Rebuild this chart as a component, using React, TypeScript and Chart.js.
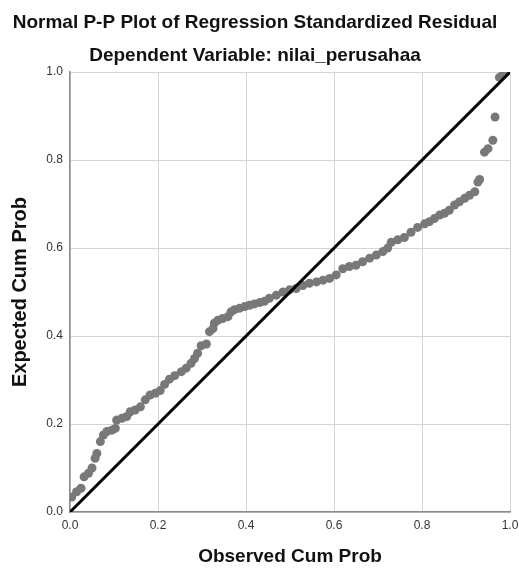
import React, { useEffect, useRef } from "react";
import { Chart, registerables } from "chart.js";

Chart.register(...registerables);

const observed: number[] = [
  0.004, 0.015, 0.025, 0.032, 0.042, 0.05, 0.057, 0.061, 0.069, 0.076, 0.084, 0.095, 0.103, 0.106,
  0.118, 0.129, 0.137, 0.148, 0.16, 0.171, 0.182, 0.194, 0.205, 0.215, 0.226, 0.238, 0.253, 0.264,
  0.275, 0.283, 0.29, 0.298, 0.31, 0.317, 0.325, 0.328, 0.336, 0.347, 0.359, 0.366, 0.374, 0.385,
  0.397, 0.408, 0.419, 0.431, 0.442, 0.453, 0.469, 0.484, 0.499, 0.514, 0.529, 0.544, 0.56, 0.575,
  0.59, 0.605, 0.62, 0.635, 0.65, 0.665, 0.681, 0.696, 0.711, 0.722, 0.73, 0.745, 0.76, 0.775,
  0.79, 0.806, 0.817, 0.828, 0.84, 0.851, 0.862, 0.874, 0.885, 0.897, 0.908, 0.92, 0.927, 0.931,
  0.942, 0.95, 0.961, 0.966, 0.976, 0.984, 0.99,
];

const expected: number[] = [
  0.034, 0.046, 0.054, 0.08, 0.088, 0.1, 0.122, 0.133, 0.16, 0.175, 0.183, 0.186, 0.19, 0.209,
  0.213, 0.217, 0.228, 0.232, 0.239, 0.255, 0.266, 0.27, 0.276, 0.29, 0.302, 0.31, 0.319, 0.327,
  0.338, 0.349, 0.361, 0.378, 0.382, 0.41, 0.417, 0.429, 0.436, 0.44, 0.444, 0.455, 0.46, 0.463,
  0.467, 0.47, 0.473, 0.476, 0.479, 0.486, 0.493, 0.5, 0.505, 0.508, 0.515, 0.52, 0.523, 0.527,
  0.531, 0.539, 0.553, 0.558, 0.561, 0.569, 0.577, 0.584, 0.592, 0.6, 0.613, 0.619, 0.624, 0.636,
  0.647, 0.655, 0.66, 0.667, 0.675, 0.679, 0.686, 0.698, 0.705, 0.713, 0.72, 0.728, 0.75, 0.756,
  0.818, 0.826, 0.845, 0.898, 0.988, 0.995, 1.0,
];

const diagonalX: number[] = [0, 1];
const diagonalY: number[] = [0, 1];

const titleText = "Normal P-P Plot of Regression Standardized Residual";
const subtitleText = "Dependent Variable: nilai_perusahaa";
const xTitle = "Observed Cum Prob";
const yTitle = "Expected Cum Prob";

const FONT = "'Liberation Sans', Arial, sans-serif";

export default function App() {
  const ref = useRef<HTMLCanvasElement | null>(null);

  useEffect(() => {
    document.body.style.margin = "0";
    const canvas = ref.current;
    if (!canvas) return;
    const chart = new Chart(canvas, {
      type: "scatter",
      data: {
        datasets: [
          {
            type: "line",
            data: diagonalX.map((x, i) => ({ x, y: diagonalY[i] })),
            borderColor: "#000000",
            borderWidth: 3,
            pointRadius: 0,
            fill: false,
          },
          {
            data: observed.map((x, i) => ({ x, y: expected[i] })),
            backgroundColor: "#787878",
            borderWidth: 0,
            pointRadius: 4.5,
          },
        ],
      },
      options: {
        responsive: false,
        animation: false,
        layout: { padding: { left: 0, right: 9, top: 0, bottom: 0 } },
        plugins: {
          legend: { display: false },
          tooltip: { enabled: false },
          title: {
            display: true,
            text: titleText,
            color: "#111111",
            font: { family: FONT, size: 19, weight: "bold" },
            padding: { top: 11, bottom: 10.5 },
          },
          subtitle: {
            display: true,
            text: subtitleText,
            color: "#111111",
            font: { family: FONT, size: 19, weight: "bold" },
            padding: { top: 0, bottom: 5 },
          },
        },
        scales: {
          x: {
            type: "linear",
            min: 0,
            max: 1,
            ticks: {
              stepSize: 0.2,
              color: "#333333",
              font: { family: FONT, size: 12 },
              padding: 6,
              callback: (v: any) => Number(v).toFixed(1),
            },
            grid: { color: "#d4d4d4", lineWidth: 1, drawTicks: false },
            border: { color: "#8a8a8a", width: 1.5 },
            title: {
              display: true,
              text: xTitle,
              color: "#111111",
              font: { family: FONT, size: 19, weight: "bold" },
              padding: { top: 4, bottom: 2 },
            },
            afterFit: (s: any) => {
              s.height = 58;
              s.paddingLeft = 0;
              s.paddingRight = 0;
            },
          },
          y: {
            type: "linear",
            min: 0,
            max: 1,
            ticks: {
              stepSize: 0.2,
              color: "#333333",
              font: { family: FONT, size: 12 },
              padding: 7,
              callback: (v: any) => Number(v).toFixed(1),
            },
            grid: { color: "#d4d4d4", lineWidth: 1, drawTicks: false },
            border: { color: "#8a8a8a", width: 1.5 },
            title: {
              display: true,
              text: yTitle,
              color: "#111111",
              font: { family: FONT, size: 20, weight: "bold" },
              padding: { top: 8, bottom: 4 },
            },
            afterFit: (s: any) => {
              s.width = 70;
              s.paddingTop = 0;
              s.paddingBottom = 0;
            },
          },
        },
      },
    } as any);
    return () => chart.destroy();
  }, []);

  return (
    <div style={{ position: "absolute", left: 0, top: 0, width: 519, height: 570, background: "#fff" }}>
      <canvas ref={ref} width={519} height={570} />
    </div>
  );
}
